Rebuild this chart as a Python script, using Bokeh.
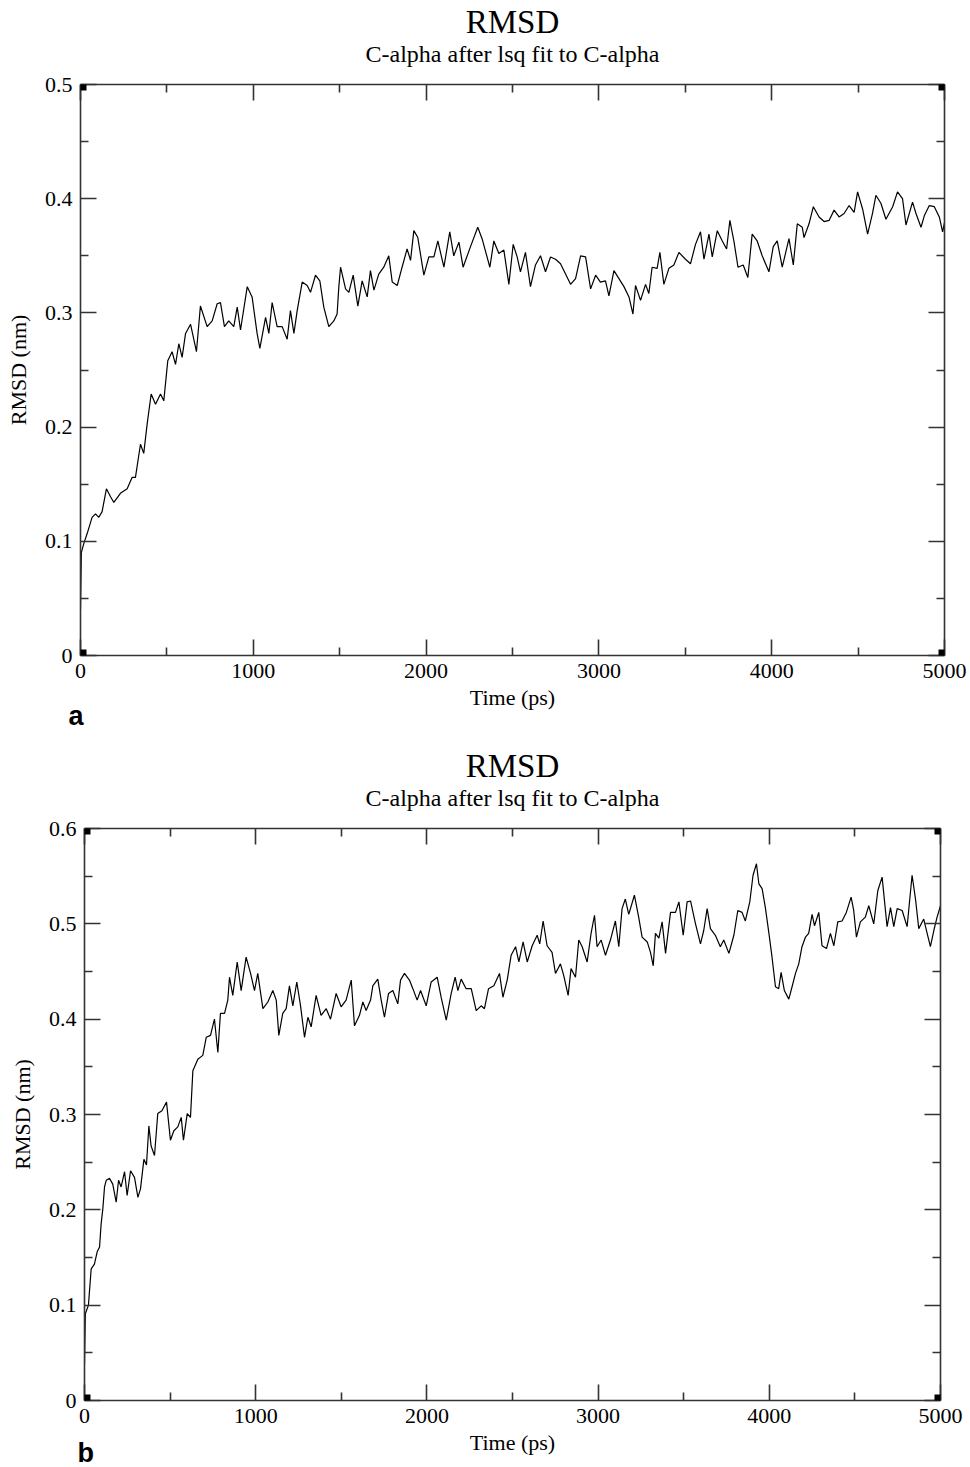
from bokeh.plotting import figure
from bokeh.models import FixedTicker, LinearAxis, Title, CustomJSTickFormatter, Range1d
from bokeh.embed import file_html
from bokeh.resources import INLINE

# ---------------- data ----------------
title_text = "RMSD"
subtitle_text = "C-alpha after lsq fit to C-alpha"
x_label = "Time (ps)"
y_label = "RMSD (nm)"
x_ticks = [0, 1000, 2000, 3000, 4000, 5000]
x_minor = [500, 1500, 2500, 3500, 4500]

a_time = [0, 5, 19, 39, 67, 87, 106, 125, 150, 174, 193, 231, 270, 299, 318, 347, 366, 386, 409, 434,
          463, 482, 505, 530, 550, 569, 588, 608, 637, 671, 694, 733, 762, 791, 810, 833, 858, 887, 907, 926,
          965, 993, 1022, 1038, 1071, 1090, 1109, 1138, 1167, 1196, 1215, 1235, 1254, 1283, 1312, 1331, 1360,
          1385, 1408, 1437, 1466, 1485, 1495, 1505, 1534, 1553, 1578, 1605, 1630, 1659, 1678, 1698, 1726, 1755,
          1784, 1804, 1833, 1861, 1890, 1910, 1929, 1952, 1987, 2016, 2045, 2068, 2103, 2137, 2160, 2190, 2214,
          2257, 2299, 2324, 2369, 2392, 2421, 2450, 2479, 2504, 2527, 2546, 2575, 2604, 2633, 2662, 2691, 2720,
          2749, 2778, 2807, 2836, 2865, 2894, 2923, 2952, 2981, 3009, 3038, 3058, 3087, 3116, 3145, 3174, 3197,
          3212, 3241, 3270, 3289, 3308, 3337, 3353, 3376, 3405, 3434, 3463, 3501, 3530, 3559, 3588, 3608, 3637,
          3656, 3685, 3714, 3739, 3758, 3781, 3805, 3835, 3862, 3887, 3916, 3945, 3984, 4009, 4032, 4061, 4100,
          4125, 4148, 4177, 4187, 4216, 4241, 4274, 4303, 4332, 4361, 4390, 4419, 4448, 4477, 4497, 4526, 4555,
          4583, 4603, 4632, 4661, 4700, 4728, 4757, 4777, 4815, 4835, 4864, 4883, 4912, 4941, 4970, 4989, 5000]
a_rmsd = [0.040, 0.090, 0.098, 0.107, 0.121, 0.124, 0.121, 0.126, 0.146, 0.139, 0.134, 0.142, 0.146, 0.156,
          0.156, 0.185, 0.177, 0.203, 0.229, 0.220, 0.229, 0.223, 0.258, 0.266, 0.255, 0.273, 0.261, 0.282,
          0.290, 0.266, 0.306, 0.288, 0.293, 0.308, 0.309, 0.288, 0.293, 0.288, 0.305, 0.285, 0.323, 0.314,
          0.282, 0.269, 0.296, 0.282, 0.309, 0.288, 0.288, 0.277, 0.302, 0.282, 0.302, 0.327, 0.324, 0.318,
          0.333, 0.328, 0.305, 0.288, 0.293, 0.299, 0.323, 0.340, 0.321, 0.318, 0.333, 0.306, 0.328, 0.314,
          0.337, 0.320, 0.334, 0.340, 0.350, 0.327, 0.324, 0.340, 0.356, 0.346, 0.372, 0.366, 0.333, 0.349,
          0.349, 0.363, 0.340, 0.371, 0.350, 0.362, 0.340, 0.358, 0.375, 0.365, 0.340, 0.363, 0.352, 0.355,
          0.325, 0.360, 0.349, 0.336, 0.353, 0.323, 0.342, 0.350, 0.336, 0.349, 0.347, 0.343, 0.334, 0.325,
          0.330, 0.350, 0.349, 0.321, 0.333, 0.327, 0.328, 0.315, 0.337, 0.330, 0.323, 0.314, 0.299, 0.324,
          0.311, 0.325, 0.317, 0.340, 0.339, 0.353, 0.325, 0.339, 0.342, 0.353, 0.347, 0.343, 0.360, 0.371,
          0.347, 0.369, 0.349, 0.372, 0.363, 0.356, 0.381, 0.363, 0.340, 0.342, 0.331, 0.369, 0.363, 0.350,
          0.336, 0.358, 0.363, 0.340, 0.365, 0.342, 0.378, 0.375, 0.366, 0.378, 0.393, 0.384, 0.380, 0.381,
          0.390, 0.384, 0.387, 0.394, 0.388, 0.406, 0.391, 0.369, 0.387, 0.403, 0.396, 0.382, 0.393, 0.406,
          0.400, 0.377, 0.397, 0.387, 0.375, 0.385, 0.394, 0.393, 0.384, 0.371, 0.379]
a_y_ticks = [0, 0.1, 0.2, 0.3, 0.4, 0.5]
a_y_minor = [0.05, 0.15, 0.25, 0.35, 0.45]

b_time = [0, 5, 23, 39, 58, 74, 88, 97, 107, 117, 127, 146, 165, 185, 199, 214, 234, 249, 269, 292, 312, 327,
          347, 362, 376, 389, 409, 428, 452, 479, 502, 522, 545, 565, 578, 600, 619, 633, 662, 691, 711, 736,
          759, 779, 794, 818, 837, 847, 866, 892, 915, 944, 970, 993, 1012, 1042, 1071, 1100, 1120, 1135, 1158,
          1178, 1197, 1217, 1240, 1262, 1285, 1305, 1324, 1353, 1382, 1412, 1437, 1470, 1499, 1528, 1558, 1577,
          1606, 1626, 1645, 1671, 1684, 1713, 1733, 1752, 1776, 1801, 1830, 1846, 1869, 1898, 1918, 1943, 1963,
          1996, 2025, 2060, 2083, 2113, 2142, 2165, 2181, 2200, 2229, 2259, 2288, 2317, 2336, 2360, 2391, 2424,
          2444, 2469, 2492, 2518, 2537, 2562, 2586, 2615, 2644, 2659, 2679, 2702, 2731, 2751, 2780, 2799, 2825,
          2842, 2868, 2887, 2907, 2936, 2959, 2979, 2994, 3018, 3043, 3072, 3101, 3121, 3140, 3159, 3179, 3212,
          3237, 3257, 3287, 3306, 3322, 3335, 3355, 3374, 3394, 3423, 3452, 3472, 3497, 3520, 3540, 3569, 3598,
          3617, 3637, 3656, 3685, 3714, 3734, 3764, 3793, 3816, 3841, 3860, 3886, 3905, 3925, 3939, 3958, 3977,
          3997, 4016, 4036, 4055, 4069, 4088, 4114, 4133, 4153, 4172, 4191, 4211, 4230, 4250, 4264, 4289, 4308,
          4334, 4357, 4377, 4400, 4425, 4450, 4478, 4493, 4509, 4532, 4561, 4581, 4610, 4634, 4659, 4688, 4708,
          4727, 4747, 4776, 4805, 4834, 4854, 4873, 4902, 4922, 4941, 4961, 4980, 5000]
b_rmsd = [0.038, 0.091, 0.100, 0.138, 0.143, 0.156, 0.161, 0.185, 0.201, 0.224, 0.231, 0.233, 0.227, 0.208,
          0.231, 0.224, 0.240, 0.215, 0.241, 0.234, 0.213, 0.222, 0.253, 0.247, 0.288, 0.267, 0.257, 0.301,
          0.304, 0.313, 0.273, 0.283, 0.287, 0.297, 0.273, 0.301, 0.297, 0.346, 0.358, 0.362, 0.381, 0.383,
          0.400, 0.365, 0.406, 0.406, 0.420, 0.444, 0.425, 0.460, 0.430, 0.465, 0.448, 0.430, 0.448, 0.411,
          0.418, 0.430, 0.420, 0.383, 0.406, 0.411, 0.435, 0.414, 0.439, 0.414, 0.381, 0.402, 0.392, 0.425,
          0.404, 0.411, 0.400, 0.427, 0.413, 0.420, 0.441, 0.393, 0.404, 0.418, 0.409, 0.420, 0.435, 0.442,
          0.420, 0.402, 0.427, 0.430, 0.416, 0.441, 0.448, 0.441, 0.432, 0.420, 0.430, 0.414, 0.439, 0.444,
          0.423, 0.399, 0.427, 0.444, 0.430, 0.442, 0.432, 0.432, 0.409, 0.414, 0.411, 0.432, 0.435, 0.448,
          0.423, 0.441, 0.467, 0.476, 0.460, 0.481, 0.460, 0.477, 0.488, 0.479, 0.503, 0.477, 0.470, 0.448,
          0.458, 0.446, 0.425, 0.453, 0.444, 0.483, 0.476, 0.460, 0.490, 0.509, 0.476, 0.483, 0.467, 0.483,
          0.503, 0.476, 0.516, 0.526, 0.510, 0.530, 0.507, 0.486, 0.481, 0.470, 0.456, 0.490, 0.485, 0.502,
          0.469, 0.512, 0.512, 0.523, 0.488, 0.523, 0.524, 0.500, 0.479, 0.493, 0.516, 0.495, 0.488, 0.476,
          0.483, 0.469, 0.488, 0.514, 0.512, 0.503, 0.523, 0.551, 0.563, 0.542, 0.537, 0.517, 0.491, 0.465,
          0.434, 0.432, 0.449, 0.430, 0.421, 0.434, 0.448, 0.458, 0.476, 0.486, 0.490, 0.510, 0.498, 0.512,
          0.477, 0.474, 0.490, 0.477, 0.502, 0.503, 0.512, 0.528, 0.514, 0.486, 0.502, 0.507, 0.519, 0.500,
          0.535, 0.549, 0.497, 0.517, 0.497, 0.516, 0.514, 0.497, 0.551, 0.526, 0.495, 0.505, 0.490, 0.476,
          0.493, 0.507, 0.519]
b_y_ticks = [0, 0.1, 0.2, 0.3, 0.4, 0.5, 0.6]
b_y_minor = [0.05, 0.15, 0.25, 0.35, 0.45, 0.55]

SERIF = "Liberation Serif"
AXC = "#333333"


def style_axis(ax, ticker, show_labels, fmt=None):
    ax.ticker = ticker
    ax.major_tick_in = 16
    ax.major_tick_out = 0
    ax.minor_tick_in = 8
    ax.minor_tick_out = 0
    ax.axis_line_width = 1.6
    ax.axis_line_color = AXC
    ax.major_tick_line_width = 1.6
    ax.major_tick_line_color = AXC
    ax.minor_tick_line_width = 1.6
    ax.minor_tick_line_color = AXC
    if show_labels:
        ax.major_label_text_font = SERIF
        ax.major_label_text_font_size = "22px"
        ax.major_label_text_color = "black"
        ax.major_label_standoff = 8
        if fmt is not None:
            ax.formatter = fmt
    else:
        ax.major_label_text_font_size = "0px"
        ax.major_label_standoff = 0
        ax.formatter = CustomJSTickFormatter(code="return '';")


def corner_axis(loc, ticks):
    # right-side axis pinned at a data x position: its thick, short ticks draw the
    # small square handles that sit on the frame corners
    ax = LinearAxis(fixed_location=loc, ticker=FixedTicker(ticks=ticks, minor_ticks=[]))
    ax.axis_line_color = None
    ax.major_tick_in = 6
    ax.major_tick_out = 6
    ax.major_tick_line_width = 12
    ax.major_tick_line_color = "black"
    ax.major_tick_line_cap = "butt"
    ax.minor_tick_line_color = None
    ax.major_label_text_font_size = "0px"
    ax.major_label_standoff = 0
    ax.formatter = CustomJSTickFormatter(code="return '';")
    return ax


def make(t, v, ymax, yt, ym, fw, fh, left, top, bottom, right,
         letter, letter_off, letter_standoff, letter_valign):
    p = figure(frame_width=fw, frame_height=fh, title=None,
               x_range=Range1d(0, 5000), y_range=Range1d(0, ymax),
               output_backend="svg", toolbar_location=None,
               min_border_left=left, min_border_right=right,
               min_border_top=top, min_border_bottom=bottom,
               x_axis_label=x_label, y_axis_label=y_label)
    p.outline_line_color = None
    p.grid.visible = False
    p.background_fill_color = "white"
    p.border_fill_color = "white"

    xt = FixedTicker(ticks=x_ticks, minor_ticks=x_minor)
    ytk = FixedTicker(ticks=yt, minor_ticks=ym)
    yfmt = CustomJSTickFormatter(code="return tick == 0 ? '0' : tick.toFixed(1);")

    style_axis(p.xaxis[0], xt, True)
    style_axis(p.yaxis[0], ytk, True, yfmt)
    p.xaxis[0].axis_label_text_font = SERIF
    p.xaxis[0].axis_label_text_font_size = "22px"
    p.xaxis[0].axis_label_text_font_style = "normal"
    p.xaxis[0].axis_label_text_color = "black"
    p.xaxis[0].axis_label_standoff = 4
    p.yaxis[0].axis_label_text_font = SERIF
    p.yaxis[0].axis_label_text_font_size = "22px"
    p.yaxis[0].axis_label_text_font_style = "normal"
    p.yaxis[0].axis_label_text_color = "black"
    p.yaxis[0].axis_label_standoff = 11

    top_ax = LinearAxis()
    style_axis(top_ax, xt, False)
    p.add_layout(top_ax, "above")
    right_ax = LinearAxis()
    style_axis(right_ax, ytk, False)
    p.add_layout(right_ax, "right")

    p.add_layout(Title(text=subtitle_text, align="center", text_font=SERIF, text_font_size="24px",
                       text_font_style="normal", text_color="black", standoff=35), "above")
    p.add_layout(Title(text=title_text, align="center", text_font=SERIF, text_font_size="33px",
                       text_font_style="normal", text_color="black", standoff=-36), "above")
    p.add_layout(Title(text=letter, align="left", offset=letter_off, text_font="Liberation Sans",
                       text_font_size="27px", text_font_style="bold", text_color="black",
                       standoff=letter_standoff, vertical_align=letter_valign), "below")

    p.add_layout(corner_axis(0, [0, ymax]), "right")
    p.add_layout(corner_axis(5000, [0, ymax]), "right")

    p.line(t, v, line_color="black", line_width=1.2)
    return p


p1 = make(a_time, a_rmsd, 0.5, a_y_ticks, a_y_minor, 864, 571, 80, 84, 85, 26, "a", -12, -28, "bottom")
p2 = make(b_time, b_rmsd, 0.6, b_y_ticks, b_y_minor, 856, 572, 84, 88, 67, 30, "b", -7, -40, "top")

open("out.html", "w").write(file_html([p1, p2], INLINE))
